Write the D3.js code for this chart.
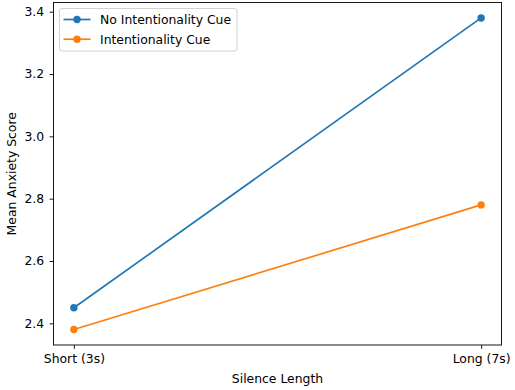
<!DOCTYPE html>
<html><head><meta charset="utf-8">
<script src="https://cdn.jsdelivr.net/npm/d3@7"></script>
<style>body{margin:0;background:#fff}svg{display:block}text{font-family:"DejaVu Sans",sans-serif;fill:#000}</style>
</head><body>
<script>
const categories = ["Short (3s)", "Long (7s)"];
const seriesNames = ["No Intentionality Cue", "Intentionality Cue"];
const noCue = [2.45, 3.38];
const cue = [2.38, 2.78];
const yTicks = [2.4, 2.6, 2.8, 3.0, 3.2, 3.4];
const colors = ["#1f77b4", "#ff7f0e"];

const W = 515, H = 390;
const m = {l: 53.5, r: 501.5, t: 2.5, b: 345};
const svg = d3.select("body").append("svg").attr("width", W).attr("height", H);

const x = d3.scaleLinear().domain([-0.05, 1.05]).range([m.l, m.r]);
const y = d3.scaleLinear().domain([2.3305, 3.4295]).range([m.b, m.t]);

const fs = 12.4;
const yAxis = svg.append("g").attr("transform", `translate(${m.l},0)`)
  .call(d3.axisLeft(y).tickValues(yTicks).tickFormat(d3.format(".1f")).tickSize(3.9).tickPadding(5.5));
yAxis.select(".domain").remove();
yAxis.selectAll("text").attr("font-size", fs).style("font-family", "DejaVu Sans");
yAxis.selectAll("line").attr("stroke", "#000").attr("stroke-width", 0.9);

const xAxis = svg.append("g").attr("transform", `translate(0,${m.b})`)
  .call(d3.axisBottom(x).tickValues([0, 1]).tickFormat(i => categories[i]).tickSize(3.9).tickPadding(5.5));
xAxis.select(".domain").remove();
xAxis.selectAll("text").attr("font-size", fs).style("font-family", "DejaVu Sans");
xAxis.selectAll("line").attr("stroke", "#000").attr("stroke-width", 0.9);

svg.append("rect").attr("x", m.l).attr("y", m.t).attr("width", m.r - m.l).attr("height", m.b - m.t)
  .attr("fill", "none").attr("stroke", "#000").attr("stroke-width", 0.9);

const data = [noCue, cue];
const line = d3.line().x((d, i) => x(i)).y(d => y(d));
data.forEach((vals, k) => {
  svg.append("path").attr("d", line(vals)).attr("fill", "none")
    .attr("stroke", colors[k]).attr("stroke-width", 1.67);
  svg.selectAll(null).data(vals).enter().append("circle")
    .attr("cx", (d, i) => x(i)).attr("cy", d => y(d)).attr("r", 3.7).attr("fill", colors[k]);
});

svg.append("text").attr("x", (m.l + m.r) / 2).attr("y", 382.5).attr("text-anchor", "middle")
  .attr("font-size", fs).text("Silence Length");
svg.append("text").attr("transform", `translate(15.8,${(m.t + m.b) / 2}) rotate(-90)`)
  .attr("text-anchor", "middle").attr("font-size", fs).text("Mean Anxiety Score");

const lg = svg.append("g");
lg.append("rect").attr("x", 59.5).attr("y", 8.5).attr("width", 177.5).attr("height", 42.5)
  .attr("rx", 2.5).attr("fill", "#fff").attr("fill-opacity", 0.8).attr("stroke", "#ccc").attr("stroke-width", 0.9);
seriesNames.forEach((n, k) => {
  const yy = 19.5 + k * 19.7;
  lg.append("line").attr("x1", 63.5).attr("x2", 90.5).attr("y1", yy).attr("y2", yy)
    .attr("stroke", colors[k]).attr("stroke-width", 1.67);
  lg.append("circle").attr("cx", 77).attr("cy", yy).attr("r", 3.7).attr("fill", colors[k]);
  lg.append("text").attr("x", 100).attr("y", yy).attr("dy", "0.36em").attr("font-size", fs).text(n);
});
</script>
</body></html>
